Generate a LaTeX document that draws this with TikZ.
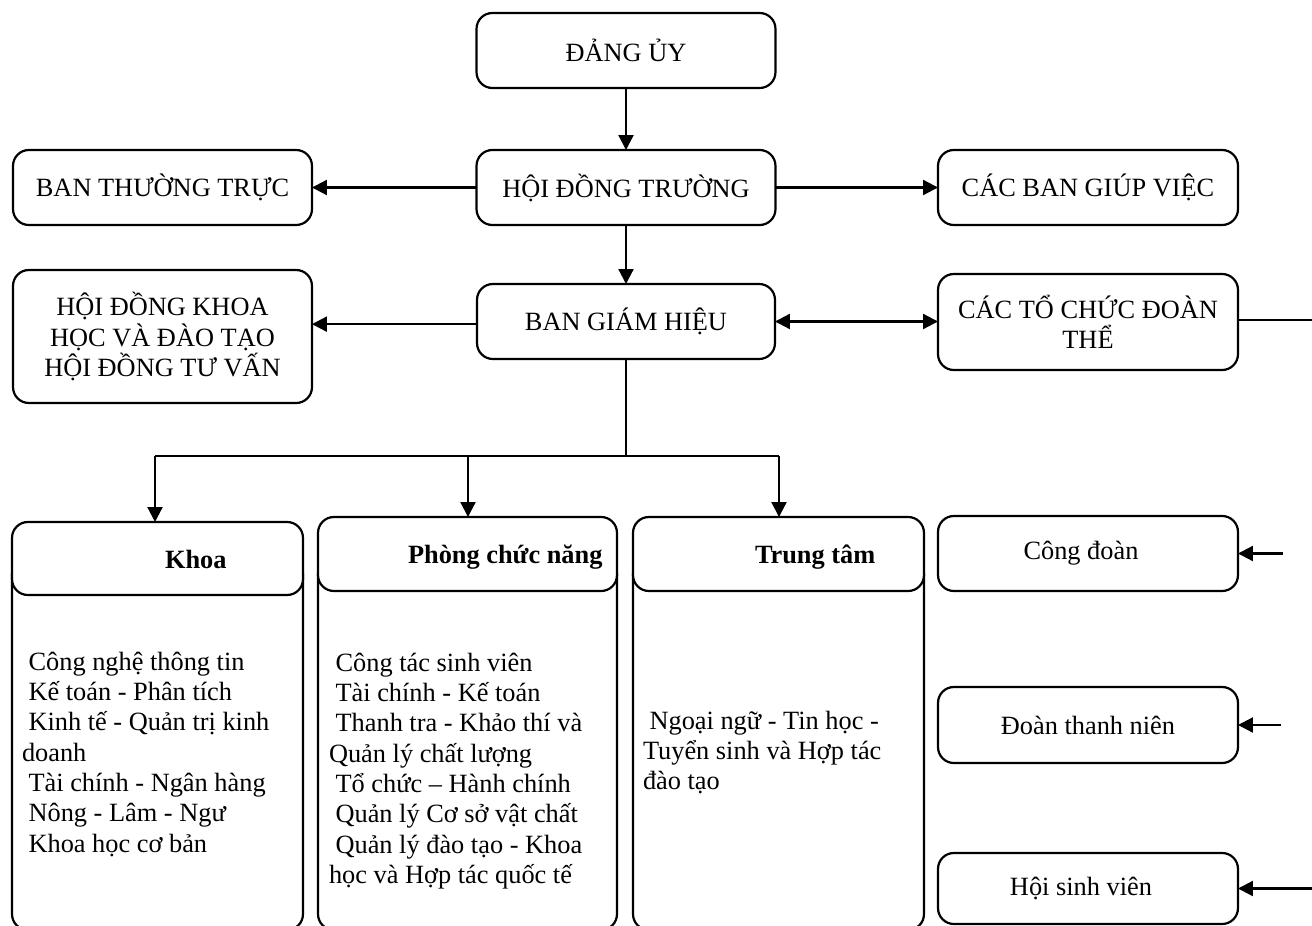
\documentclass[tikz,border=0pt]{standalone}
\usepackage{fontspec}
\setmainfont{Liberation Serif}
\usetikzlibrary{arrows.meta}
\begin{document}
\begin{tikzpicture}[x=0.02cm,y=-0.02cm,
  box/.style={draw, line width=1.25pt, rounded corners=9pt, inner sep=0pt, outer sep=0pt,
    align=center, font=\fontsize{15}{17.4}\selectfont},
  headbox/.style={box, fill=white},
  label/.style={inner sep=0pt, outer sep=0pt, anchor=base west, font=\fontsize{15}{17.4}\selectfont},
  conn/.style={line width=1.25pt, -{Triangle[length=8.5pt,width=8.5pt]}},
  dconn/.style={line width=1.25pt, {Triangle[length=8.5pt,width=8.5pt]}-{Triangle[length=8.5pt,width=8.5pt]}},
  plain/.style={line width=1.25pt}
]
\useasboundingbox (0,0) rectangle (1312,926);
\clip (0,0) rectangle (1312,926);

% top level
\node[box, minimum width=5.98cm, minimum height=1.5cm] (dang) at (626,50.5) {ĐẢNG ỦY};
\node[box, minimum width=5.98cm, minimum height=1.5cm] (hdt) at (626,187.5) {HỘI ĐỒNG TRƯỜNG};
\node[box, minimum width=5.98cm, minimum height=1.5cm] (btt) at (162.5,187.5) {BAN THƯỜNG TRỰC};
\node[box, minimum width=6.0cm, minimum height=1.5cm] (cbgv) at (1088,187.5) {CÁC BAN GIÚP VIỆC};
\node[box, minimum width=5.96cm, minimum height=1.5cm] (bgh) at (626,321.5) {BAN GIÁM HIỆU};
\node[box, minimum width=5.98cm, minimum height=2.66cm] (hdk) at (162.5,336.5) {HỘI ĐỒNG KHOA\\HỌC VÀ ĐÀO TẠO\\HỘI ĐỒNG TƯ VẤN};
\node[box, minimum width=6.0cm, minimum height=1.92cm] (dt) at (1088,322) {CÁC TỔ CHỨC ĐOÀN\\THỂ};

% bottom columns: bodies first, then headers
\node[box, minimum width=5.82cm, minimum height=7.44cm] (khoab) at (157.5,744) {};
\node[box, minimum width=5.98cm, minimum height=7.44cm] (phongb) at (467.5,744) {};
\node[box, minimum width=5.82cm, minimum height=7.44cm] (ttb) at (778.5,744) {};
\node[headbox, minimum width=5.82cm, minimum height=1.46cm] (khoah) at (157.5,558.5) {};
\node[headbox, minimum width=5.98cm, minimum height=1.48cm] (phongh) at (467.5,554) {};
\node[headbox, minimum width=5.82cm, minimum height=1.48cm] (tth) at (778.5,554) {};

\node[label, font=\fontsize{15}{17.4}\selectfont\bfseries] (khoat) at (165,568) {Khoa};
\node[label, font=\fontsize{15}{17.4}\selectfont\bfseries] (phongt) at (408,563) {Phòng chức năng};
\node[label, font=\fontsize{15}{17.4}\selectfont\bfseries] (ttt) at (755,563) {Trung tâm};

\node[label] (khoal) at (22,670) {\vtop{\baselineskip=17.3pt\lineskiplimit=-\maxdimen
  \hbox{\ Công nghệ thông tin}
  \hbox{\ Kế toán - Phân tích}
  \hbox{\ Kinh tế - Quản trị kinh}
  \hbox{doanh}
  \hbox{\ Tài chính - Ngân hàng}
  \hbox{\ Nông - Lâm - Ngư}
  \hbox{\ Khoa học cơ bản}}};
\node[label] (phongl) at (329,671) {\vtop{\baselineskip=17.3pt\lineskiplimit=-\maxdimen
  \hbox{\ Công tác sinh viên}
  \hbox{\ Tài chính - Kế toán}
  \hbox{\ Thanh tra - Khảo thí và}
  \hbox{Quản lý chất lượng}
  \hbox{\ Tổ chức – Hành chính}
  \hbox{\ Quản lý Cơ sở vật chất}
  \hbox{\ Quản lý đào tạo - Khoa}
  \hbox{học và Hợp tác quốc tế}}};
\node[label] (ttl) at (643,729) {\vtop{\baselineskip=17.3pt\lineskiplimit=-\maxdimen
  \hbox{\ Ngoại ngữ - Tin học -}
  \hbox{Tuyển sinh và Hợp tác}
  \hbox{đào tạo}}};

% right column
\node[box, minimum width=6.0cm, minimum height=1.5cm] (cd) at (1088,553.5) {Công đoàn\hspace{8pt}};
\node[box, minimum width=6.0cm, minimum height=1.52cm] (dtn) at (1088,725) {Đoàn thanh niên};
\node[box, minimum width=6.0cm, minimum height=1.42cm] (hsv) at (1088,888.5) {Hội sinh viên\hspace{8pt}};

% connectors
\draw[conn] (dang) -- (hdt);
\draw[conn] (hdt.west) -- (btt.east);
\draw[conn] (hdt.east) -- (cbgv.west);
\draw[conn] (hdt) -- (bgh);
\draw[conn] ([yshift=-1.5pt]bgh.west) -- ([yshift=-1.5pt]bgh.west -| hdk.east);
\draw[dconn] (bgh.east) -- (bgh.east -| dt.west);
\coordinate (rt) at (1312,320);
\draw[plain] (dt.east |- rt) -- (rt);

\coordinate (b1) at (155,456);
\coordinate (b2) at (468,456);
\coordinate (b3) at (779,456);
\draw[plain] (bgh.south) -- (bgh.south |- b1);
\draw[plain] (b1) -- (b3);
\draw[conn] (b1) -- (b1 |- khoah.north);
\draw[conn] (b2) -- (b2 |- phongh.north);
\draw[conn] (b3) -- (b3 |- tth.north);

\coordinate (r1) at (1283,553.5);
\coordinate (r2) at (1281,725);
\coordinate (r3) at (1312,888.5);
\draw[conn] (r1) -- (cd.east);
\draw[conn] (r2) -- (dtn.east);
\draw[conn] (r3) -- (hsv.east);
\end{tikzpicture}
\end{document}
